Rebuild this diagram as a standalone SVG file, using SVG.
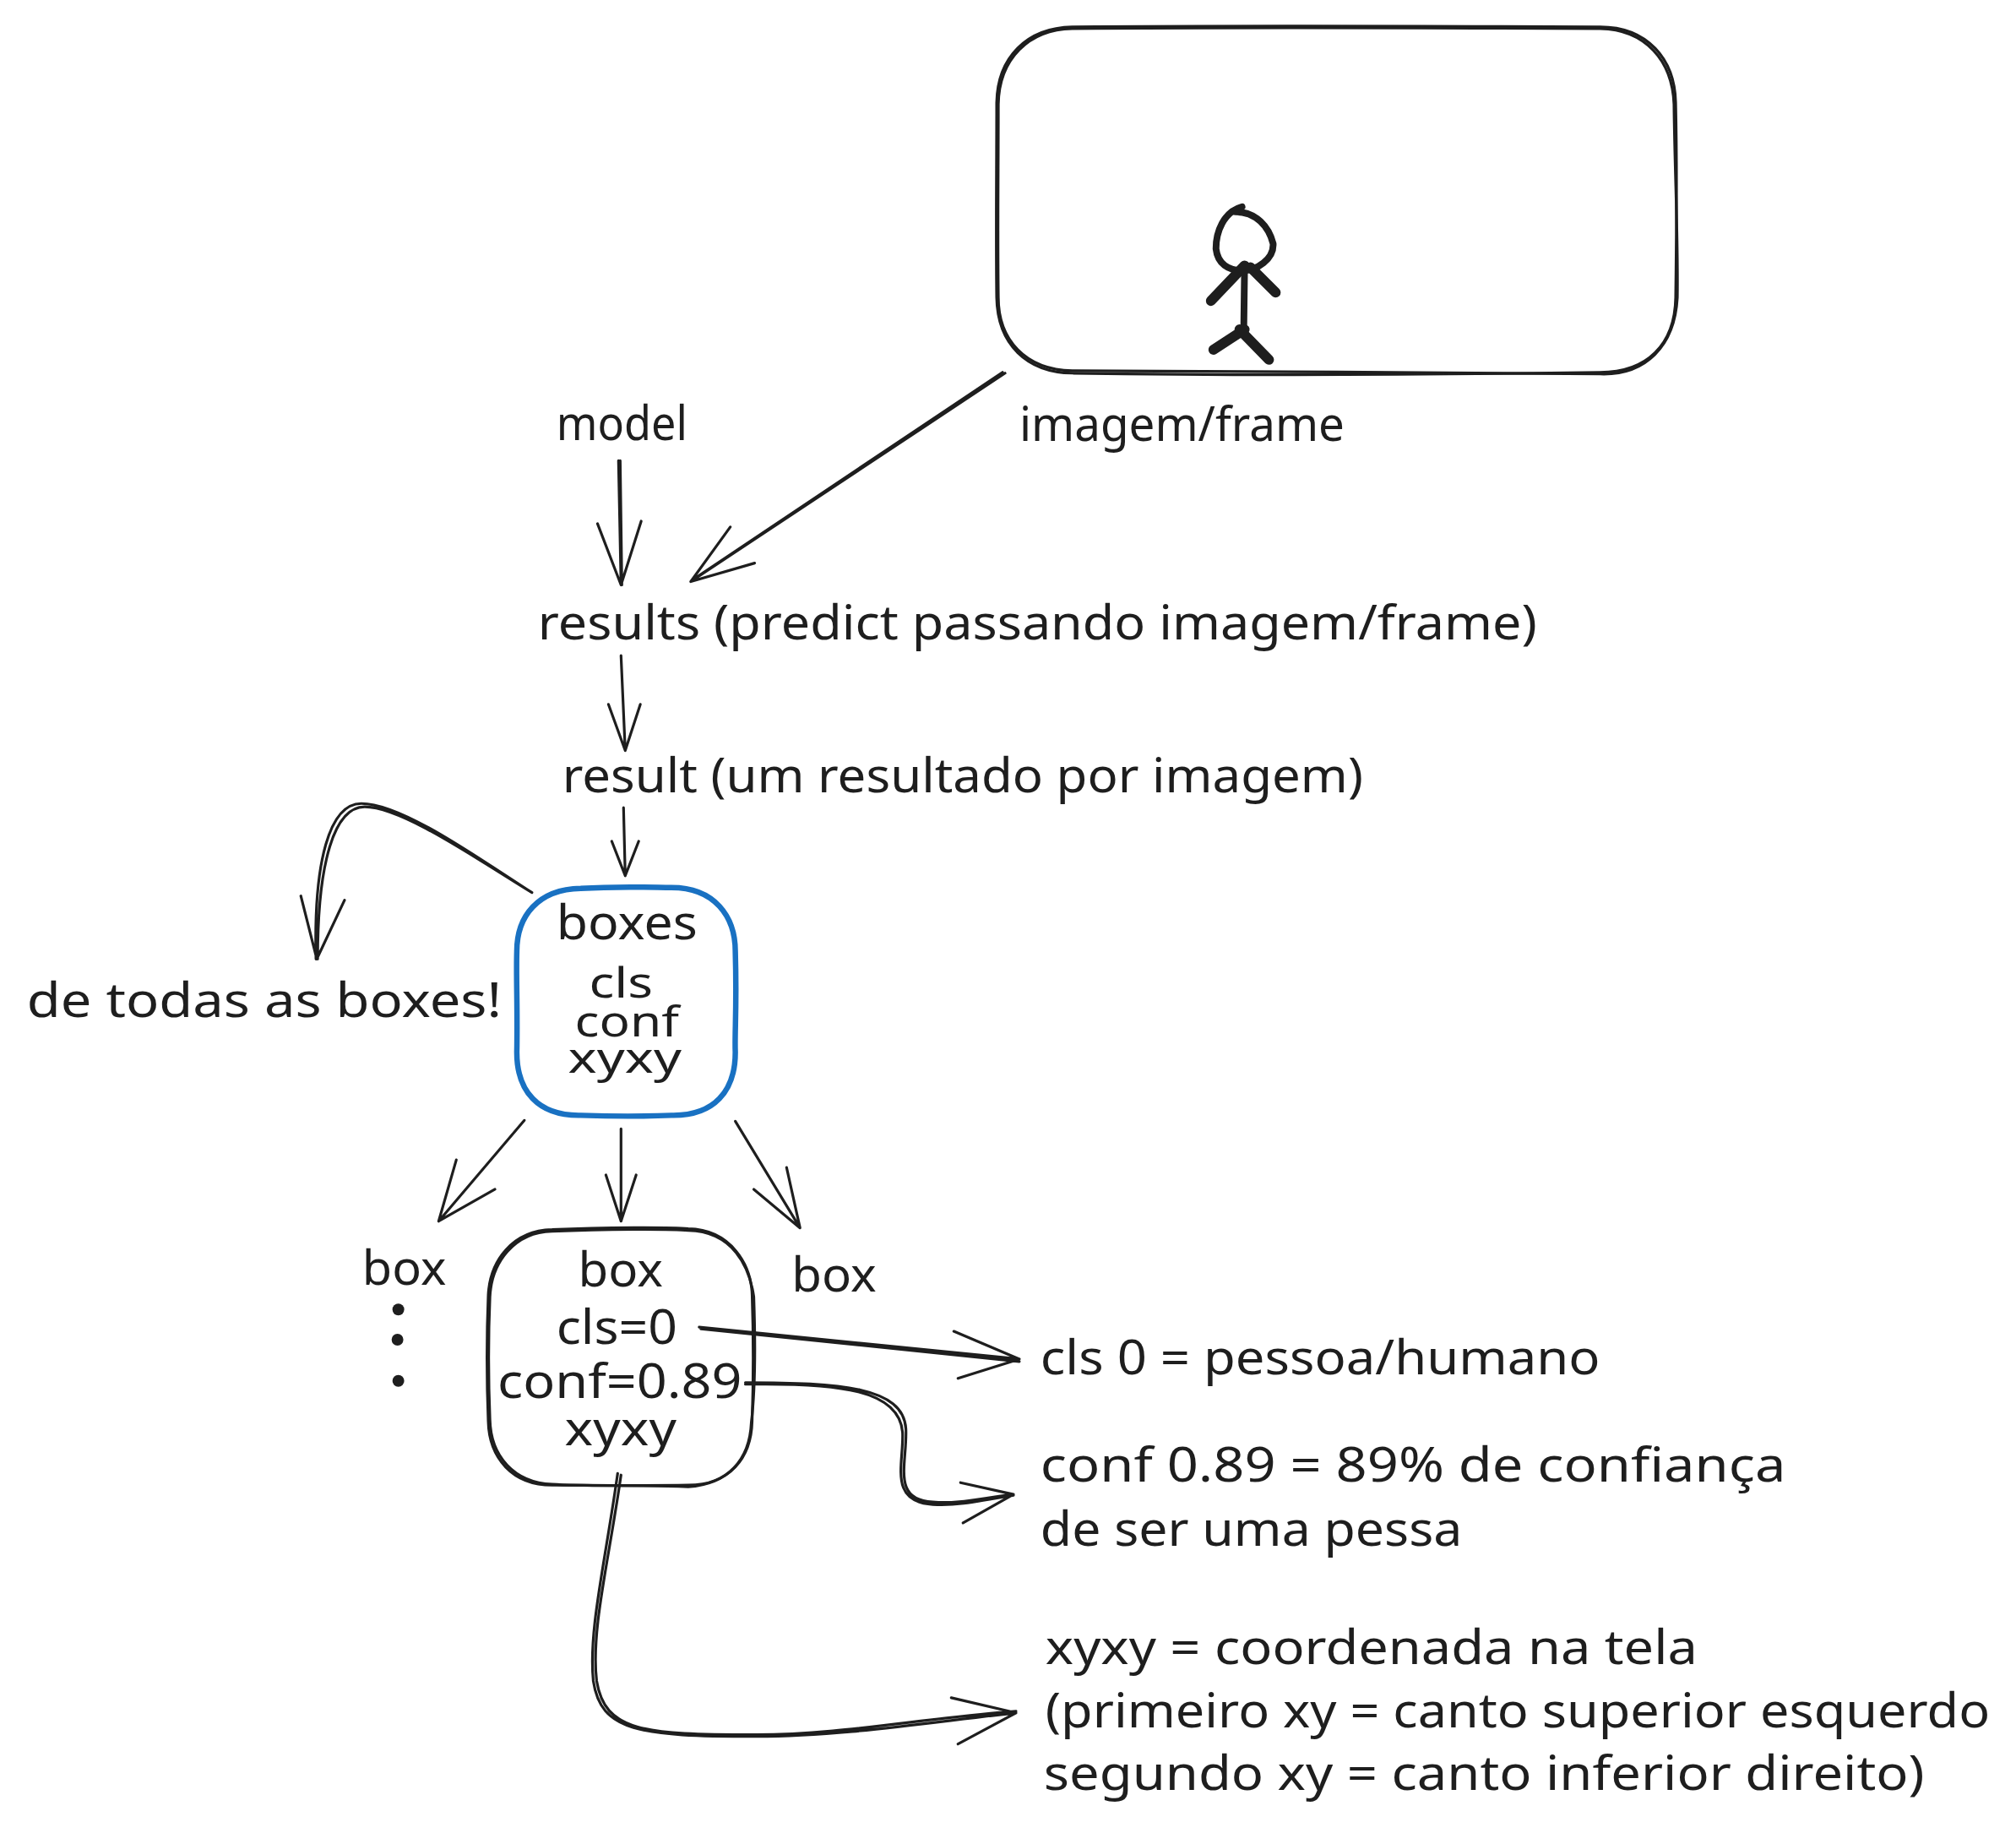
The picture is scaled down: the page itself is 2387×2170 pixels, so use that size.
<svg xmlns="http://www.w3.org/2000/svg" width="2387" height="2170" viewBox="0 0 2387 2170">
<style>
.t{font-family:"Noto Sans","Open Sans","DejaVu Sans",sans-serif;font-size:56px;fill:#1e1e1e}
.n{font-size:50px}
.s{fill:none;stroke:#1e1e1e;stroke-width:3.2;stroke-linecap:round;stroke-linejoin:round}
.b{fill:none;stroke:#1971c2;stroke-width:6.5;stroke-linecap:round;stroke-linejoin:round}
.p{fill:none;stroke:#1e1e1e;stroke-width:12;stroke-linecap:round;stroke-linejoin:round}
.h{fill:none;stroke:#1e1e1e;stroke-width:8;stroke-linecap:round;stroke-linejoin:round}
</style>
<rect width="2387" height="2170" fill="#fff"/>
<g transform="scale(0.995)">
<g id="frame-box">
<path class="s" d="M1276 32C1500 30 1700 31 1904 32C1960 32 1993 70 1994 122C1996 210 1995 280 1994 354C1993 410 1960 443 1904 443C1700 446 1480 447 1276 444C1222 443 1187 410 1186 354C1185 280 1186 200 1186 122C1187 68 1222 33 1276 32Z"/>
<path class="s" d="M1276 34C1500 32 1700 33 1904 34C1958 35 1990 72 1992 124C1993 210 1997 280 1996 354C1993 412 1958 447 1904 445C1700 442 1480 443 1276 441C1220 440 1188 404 1188 354C1187 280 1188 200 1188 124C1189 70 1224 35 1276 34Z"/>
</g>
<g id="person">
<path class="h" d="M1478 246C1456 252 1447 276 1447 296C1449 314 1462 322 1478 322C1496 322 1516 308 1515 290C1510 270 1495 252 1470 252"/>
<path class="h" d="M1481 318L1480 395"/>
<path class="p" d="M1481 316L1441 358M1488 318L1518 348M1481 392L1444 416M1475 392L1510 428"/>
</g>
<g id="model"><text class="t" x="662" y="524" textLength="156" lengthAdjust="spacingAndGlyphs">model</text></g>
<g id="imagem-label"><text class="t" x="1213" y="525" textLength="387" lengthAdjust="spacingAndGlyphs">imagem/frame</text></g>
<g id="results"><text class="t" x="640" y="761" textLength="1189" lengthAdjust="spacingAndGlyphs">results (predict passando imagem/frame)</text></g>
<g id="result"><text class="t" x="669" y="943" textLength="953" lengthAdjust="spacingAndGlyphs">result (um resultado por imagem)</text></g>
<g id="boxes">
<path class="b" d="M691 1057C740 1054 780 1056 799 1056C850 1056 875 1090 875 1132C877 1200 874 1230 875 1252C875 1298 850 1328 799 1327C750 1329 720 1328 691 1327C640 1328 615 1298 615 1252C616 1200 614 1160 615 1132C615 1090 640 1058 691 1057Z"/>
<text class="t" x="662" y="1118" textLength="168" lengthAdjust="spacingAndGlyphs">boxes</text>
<text class="t n" x="701" y="1187" textLength="76" lengthAdjust="spacingAndGlyphs">cls</text>
<text class="t n" x="684" y="1233" textLength="124" lengthAdjust="spacingAndGlyphs">conf</text>
<text class="t n" x="676" y="1276" textLength="135" lengthAdjust="spacingAndGlyphs">xyxy</text>
</g>
<g id="all-boxes"><text class="t" x="32" y="1210" textLength="565" lengthAdjust="spacingAndGlyphs">de todas as boxes!</text></g>
<g id="box-left">
<text class="t" x="431" y="1529" textLength="100" lengthAdjust="spacingAndGlyphs">box</text>
<circle cx="474" cy="1558" r="7" fill="#1e1e1e"/><circle cx="473" cy="1594" r="7" fill="#1e1e1e"/><circle cx="474" cy="1643" r="7" fill="#1e1e1e"/>
</g>
<g id="box-right"><text class="t" x="942" y="1537" textLength="101" lengthAdjust="spacingAndGlyphs">box</text></g>
<g id="box">
<path class="s" d="M657 1463C720 1460 800 1460 819 1462C870 1463 894 1505 895 1541C897 1600 896 1660 895 1691C894 1735 868 1767 819 1767C750 1768 700 1767 657 1767C610 1767 582 1735 581 1691C579 1640 579 1590 581 1541C583 1500 610 1464 657 1463Z"/>
<path class="s" d="M657 1465C720 1462 800 1462 819 1464C872 1465 892 1507 897 1543C899 1600 898 1660 894 1693C892 1737 866 1766 819 1769C750 1766 700 1769 657 1766C612 1764 584 1733 583 1689C581 1640 581 1590 583 1543C585 1502 612 1466 657 1465Z"/>
<text class="t" x="688" y="1531" textLength="101" lengthAdjust="spacingAndGlyphs">box</text>
<text class="t" x="662" y="1599" textLength="144" lengthAdjust="spacingAndGlyphs">cls=0</text>
<text class="t" x="592" y="1663" textLength="291" lengthAdjust="spacingAndGlyphs">conf=0.89</text>
<text class="t" x="672" y="1720" textLength="133" lengthAdjust="spacingAndGlyphs">xyxy</text>
</g>
<g id="note-cls"><text class="t" x="1238" y="1635" textLength="666" lengthAdjust="spacingAndGlyphs">cls 0 = pessoa/humano</text></g>
<g id="note-conf">
<text class="t" x="1238" y="1763" textLength="887" lengthAdjust="spacingAndGlyphs">conf 0.89 = 89% de confiança</text>
<text class="t" x="1238" y="1839" textLength="502" lengthAdjust="spacingAndGlyphs">de ser uma pessa</text>
</g>
<g id="note-xyxy">
<text class="t" x="1244" y="1980" textLength="776" lengthAdjust="spacingAndGlyphs">xyxy = coordenada na tela</text>
<text class="t" x="1244" y="2055" textLength="1124" lengthAdjust="spacingAndGlyphs">(primeiro xy = canto superior esquerdo</text>
<text class="t" x="1242" y="2130" textLength="1048" lengthAdjust="spacingAndGlyphs">segundo xy = canto inferior direito)</text>
</g>
<g id="connectors">
<path class="s" d="M1196 444L822 692M1193 443L824 690M869 627L822 692L898 670"/>
<path class="s" d="M736 548L739 696M738 548L740 696M711 623L739 696L763 620"/>
<path class="s" d="M739 780L744 893M724 838L744 893L762 838"/>
<path class="s" d="M742 961L744 1042M728 1001L744 1042L760 1001"/>
<path class="s" d="M633 1062C566 1021 478 960 434 960C398 960 378 1025 378 1141M633 1062C566 1019 478 956 430 956C392 956 373 1025 376 1141M358 1066L377 1141L410 1071"/>
<path class="s" d="M624 1333L522 1453M543 1380L522 1453L589 1415"/>
<path class="s" d="M739 1343L739 1453M721 1398L739 1453L757 1398"/>
<path class="s" d="M875 1334L952 1461M936 1389L952 1461L897 1415"/>
<path class="s" d="M832 1579L1213 1617M834 1581L1213 1620M1135 1584L1213 1617L1140 1640"/>
<path class="s" d="M887 1645C1000 1645 1075 1650 1078 1700C1080 1740 1060 1785 1110 1787C1140 1790 1170 1782 1206 1778M887 1647C1000 1645 1070 1654 1074 1704C1076 1740 1056 1787 1110 1790C1140 1792 1170 1785 1206 1779M1143 1764L1206 1778L1146 1812"/>
<path class="s" d="M735 1753C720 1860 700 1940 706 2000C715 2060 760 2066 900 2066C1000 2066 1100 2050 1209 2038M739 1755C724 1860 703 1940 710 2000C720 2060 765 2064 900 2064C1000 2064 1100 2044 1209 2036M1132 2020L1209 2038L1140 2075"/>
</g>
</g>
</svg>
